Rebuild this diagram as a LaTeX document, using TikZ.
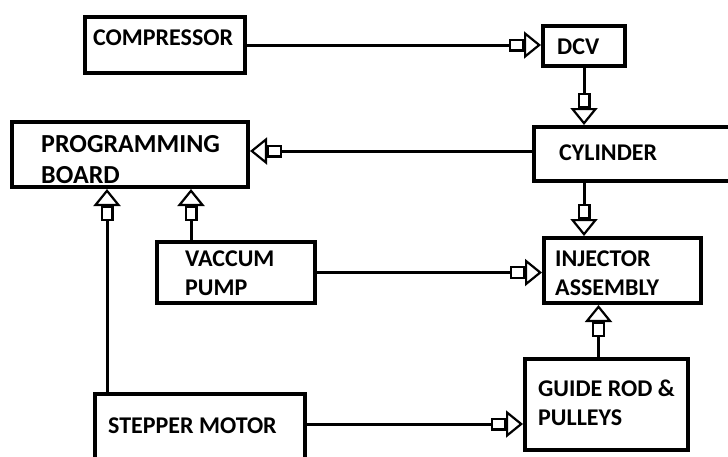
\documentclass[tikz,border=0pt]{standalone}
\usepackage{fontspec}
\setmainfont{Carlito}
\usetikzlibrary{arrows.meta}
\tikzset{
  blk/.style={draw, line width=4pt, inner sep=0pt},
  lbl/.style={anchor=base west, inner sep=0pt, align=left, font=\bfseries\fontsize{24}{29}\selectfont},
  flow/.style={line width=3pt, -{Rectangle[fill=white, line width=2.2pt, length=15pt, width=13pt] Triangle[fill=white, line width=2.2pt, length=17pt, width=27pt]}}
}

\begin{document}
\begin{tikzpicture}[x=1pt,y=-1pt]
\fill[white] (0,0) rectangle (728,456);
\useasboundingbox (0,0) rectangle (728,456);
% boxes
\node[blk, minimum width=160pt, minimum height=56pt] (comp) at (165,45) {};
\node[blk, minimum width=82pt, minimum height=40pt] (dcv) at (584,46) {};
\node[blk, minimum width=206pt, minimum height=54pt] (cyl) at (637,154) {};
\node[blk, minimum width=236pt, minimum height=65pt] (prog) at (130,154.5) {};
\node[blk, minimum width=158pt, minimum height=61pt] (vac) at (236,272.5) {};
\node[blk, minimum width=157pt, minimum height=65pt] (inj) at (622.5,270.5) {};
\node[blk, minimum width=210pt, minimum height=76pt] (step) at (200,432) {};
\node[blk, minimum width=163pt, minimum height=91pt] (guide) at (606.5,404.5) {};
% labels (base = last line)
\node[lbl] (compT) at (93,45) {COMPRESSOR};
\node[lbl] (dcvT) at (557,54) {DCV};
\node[lbl] (cylT) at (559,160) {CYLINDER};
\node[lbl, font=\bfseries\fontsize{26}{31}\selectfont] (progT) at (41,183) {PROGRAMMING\\BOARD};
\node[lbl] (vacT) at (185,295) {VACCUM\\PUMP};
\node[lbl] (injT) at (555,295) {INJECTOR\\ASSEMBLY};
\node[lbl] (stepT) at (108,433) {STEPPER MOTOR};
\node[lbl] (guideT) at (538,425) {GUIDE ROD \&\\PULLEYS};
% connectors
\draw[flow] (comp.east) -- (comp.east -| dcv.west);
\draw[flow] (dcv.south) -- (dcv.south |- cyl.north);
\draw[flow] ([yshift=3pt]cyl.west) -- ([yshift=3pt]cyl.west -| prog.east);
\draw[flow] (dcv.south |- cyl.south) -- (dcv.south |- inj.north);
\draw[flow] ([xshift=-45pt]vac.north) -- ([xshift=-45pt]vac.north |- prog.south);
\draw[flow] ([xshift=-93pt]step.north) -- ([xshift=-93pt]step.north |- prog.south);
\draw[flow] (vac.east) -- (vac.east -| inj.west);
\draw[flow] ([yshift=8pt]step.east) -- ([yshift=8pt]step.east -| guide.west);
\draw[flow] ([xshift=-8pt]guide.north) -- ([xshift=-8pt]guide.north |- inj.south);
\end{tikzpicture}
\end{document}
